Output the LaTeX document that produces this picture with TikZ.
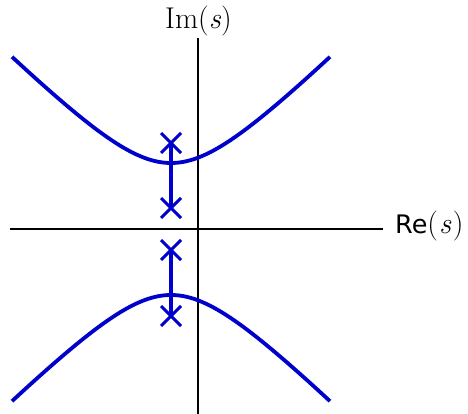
\documentclass[tikz,border=0pt]{standalone}
\usepackage{fontspec}
\setsansfont{DejaVu Sans}
\usetikzlibrary{shapes.misc}
\definecolor{locus}{RGB}{0,0,205}
\newcommand{\bigrm}{\fontsize{30}{36}\selectfont\rmfamily}
\newcommand{\bigsf}{\fontsize{25.5}{30}\selectfont\sffamily}
\tikzset{
  axis/.style={line width=1.2pt, black},
  branch/.style={line width=3.8pt, locus},
  pole/.style={cross out, draw=locus, line width=3pt, minimum size=17pt, inner sep=0pt},
  seg/.style={line width=3.5pt, locus},
  lab/.style={inner sep=0pt}
}
\begin{document}
\begin{tikzpicture}[x=1pt,y=-1pt]
\useasboundingbox (0,0) rectangle (468,414);
% axes
\coordinate (xl) at (10,229);
\coordinate (xr) at (383,229);
\coordinate (yt) at (198,38);
\coordinate (yb) at (198,414);
\draw[axis] (xl) -- (xr);
\draw[axis] (yt) -- (yb);
\node[lab, anchor=base west] (re) at (395,233) {{\bigsf Re}{\bigrm(\kern1pt\textit{s}\kern1.5pt)}};
\node[lab, anchor=base west] (im) at (165,29) {{\bigrm Im(\textit{s})}};
% hyperbola branches
\draw[branch] plot[domain=-15.9:15.9, samples=120, smooth] ({171+10*\x},{229-10*sqrt(6.6*6.6+\x*\x)});
\draw[branch] plot[domain=-15.9:15.9, samples=120, smooth] ({171+10*\x},{229+10*sqrt(6.6*6.6+\x*\x)});
% poles
\node[pole] (p1) at (171,143) {};
\node[pole] (p2) at (171,208) {};
\node[pole] (p3) at (171,250) {};
\node[pole] (p4) at (171,316) {};
\draw[seg] (p1.center) -- (p2.center);
\draw[seg] (p3.center) -- (p4.center);
\end{tikzpicture}
\end{document}
